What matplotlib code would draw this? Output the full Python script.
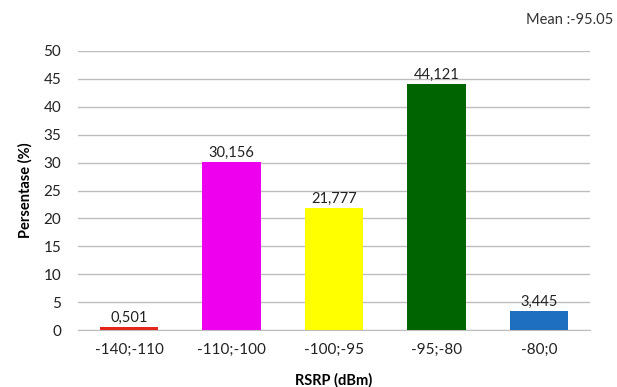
import numpy as np
import matplotlib.pyplot as plt

# RSRP ranges and share of samples (%)
categories = ["-140;-110", "-110;-100", "-100;-95", "-95;-80", "-80;0"]
values = [0.501, 30.156, 21.777, 44.121, 3.445]
value_labels = ["0,501", "30,156", "21,777", "44,121", "3,445"]
colors = ["#e4251c", "#ee00ee", "#ffff00", "#006400", "#1f6fc0"]
mean_text = "Mean :-95.05"

plt.rcParams['font.family'] = ['Lato', 'DejaVu Sans']

fig = plt.figure(figsize=(6.17, 3.87), dpi=100)
ax = fig.add_axes([78 / 617, 1 - 330 / 387, 512 / 617, 279 / 387])

x = np.arange(len(categories))
ax.bar(x, values, width=0.57, color=colors, zorder=3)

for xi, v, lab in zip(x, values, value_labels):
    ax.text(xi, v + 0.4, lab, ha="center", va="bottom", fontsize=10.5, color="#222222", zorder=4)

ax.set_xlim(-0.5, len(categories) - 0.5)
ax.set_ylim(0, 50)
ax.set_yticks(np.arange(0, 51, 5))
ax.set_xticks(x)
ax.set_xticklabels(categories)
ax.tick_params(axis="both", length=0, labelsize=11, colors="#222222")
ax.tick_params(axis="y", pad=12)
ax.tick_params(axis="x", pad=9)
ax.grid(axis="y", color="#bdbdbd", linewidth=1, zorder=0)
for side in ["left", "right", "top"]:
    ax.spines[side].set_visible(False)
ax.spines["bottom"].set_color("#bdbdbd")

ax.set_xlabel("RSRP (dBm)", fontsize=10.5, fontweight="bold", labelpad=12)
ax.set_ylabel("Persentase (%)", fontsize=10.5, fontweight="bold", labelpad=8)

fig.text(613 / 617, 1 - 20 / 387, mean_text, ha="right", va="center", fontsize=10.5, color="#333333")

fig.savefig("out.png", dpi=100)
